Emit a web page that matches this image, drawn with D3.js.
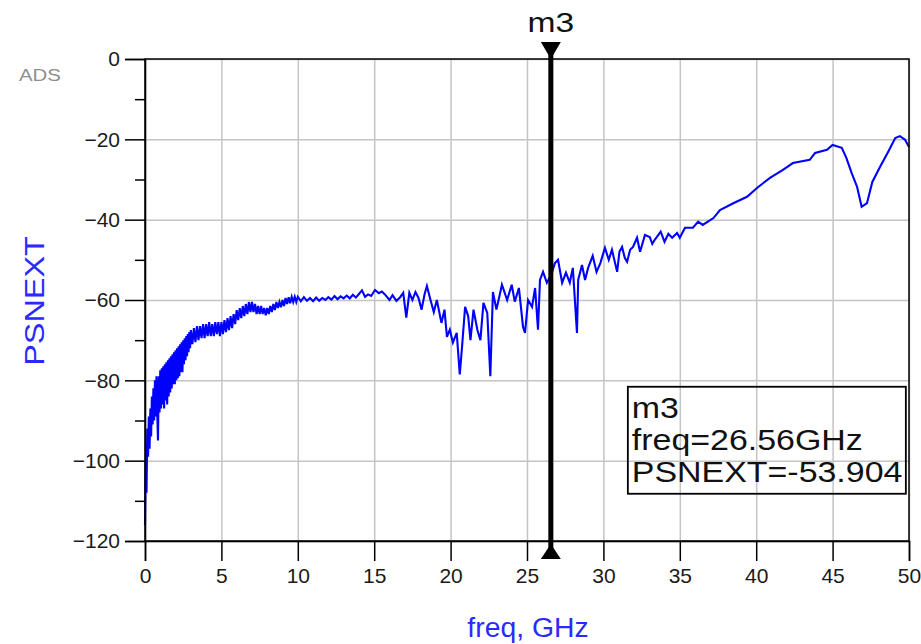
<!DOCTYPE html>
<html>
<head>
<meta charset="utf-8">
<script src="https://cdn.jsdelivr.net/npm/d3@7"></script>
<style>
  body { margin: 0; background: #fff; }
  #canvas { width: 921px; height: 644px; }
  text { font-family: "Liberation Sans", Arial, sans-serif; }
</style>
</head>
<body>
<div id="canvas" class="canvas"></div>
<script>
// chart data
var xTicks = [0, 5, 10, 15, 20, 25, 30, 35, 40, 45, 50];
var yTicks = [0, -20, -40, -60, -80, -100, -120];
var yMinor = [-10, -30, -50, -70, -90, -110];

var freqGHz = [
  0.00, 0.05, 0.10, 0.15, 0.20, 0.25, 0.30, 0.35, 0.40, 0.45, 0.50, 0.55, 0.60, 0.65, 0.70, 0.75,
  0.80, 0.85, 0.90, 0.95, 1.00, 1.05, 1.10, 1.15, 1.20, 1.25, 1.30, 1.35, 1.40, 1.45, 1.50, 1.55,
  1.60, 1.65, 1.70, 1.75, 1.80, 1.85, 1.90, 1.95, 2.00, 2.05, 2.10, 2.15, 2.20, 2.25, 2.30, 2.35,
  2.40, 2.45, 2.50, 2.55, 2.60, 2.65, 2.70, 2.75, 2.80, 2.85, 2.90, 2.95, 3.00,
  3.1, 3.2, 3.3, 3.4, 3.5, 3.6, 3.7, 3.8, 3.9, 4.0, 4.1, 4.2, 4.3, 4.4, 4.5, 4.6, 4.7, 4.8, 4.9, 5.0,
  5.1, 5.2, 5.3, 5.4, 5.5, 5.6, 5.7, 5.8, 5.9, 6.0, 6.1, 6.2, 6.3, 6.4, 6.5, 6.6, 6.7, 6.8, 6.9, 7.0,
  7.1, 7.2, 7.3, 7.4, 7.5, 7.6, 7.7, 7.8, 7.9, 8.0, 8.1, 8.2, 8.3, 8.4, 8.5, 8.6, 8.7, 8.8, 8.9, 9.0,
  9.1, 9.2, 9.3, 9.4, 9.5, 9.6, 9.7, 9.8, 9.9, 10.0,
  10.2, 10.4, 10.6, 10.8, 11.0, 11.2, 11.4, 11.6, 11.8, 12.0, 12.2, 12.4, 12.6, 12.8, 13.0, 13.2,
  13.4, 13.6, 13.8, 14.0, 14.2, 14.4, 14.6, 14.8, 15.05, 15.3, 15.5, 15.7,
  16.0, 16.2, 16.45, 16.7, 16.9, 17.1, 17.3, 17.5, 17.7, 17.9, 18.1, 18.3, 18.45, 18.65,
  18.9, 19.1, 19.4, 19.6, 19.76, 19.95, 20.15, 20.4, 20.6, 20.75, 20.95, 21.15, 21.3, 21.5,
  21.75, 21.95, 22.15, 22.4, 22.6, 22.77, 23.0, 23.36, 23.7, 24.0, 24.2, 24.47, 24.74, 24.87,
  25.07, 25.33, 25.53, 25.72, 25.85, 26.05, 26.3, 26.56, 26.83, 27.03, 27.3, 27.55, 27.8, 28.0,
  28.27, 28.35, 28.6, 28.8, 29.0, 29.3, 29.55, 29.8, 30.1, 30.35, 30.56, 30.9, 31.05, 31.22,
  31.4, 31.55, 31.75, 31.94, 32.2, 32.4, 32.72, 33.03, 33.2, 33.36, 33.75, 34.0, 34.25, 34.5,
  34.82, 35.0, 35.34, 35.86, 36.2, 36.5, 37.2, 37.63, 38.5, 39.4, 40.05, 40.9, 41.75, 42.4,
  43.5, 43.85, 44.63, 45.0, 45.6, 45.9, 46.25, 46.6, 46.9, 47.25, 47.6, 48.1, 48.64, 49.1,
  49.4, 49.74, 50.0
];

var psnext = [
  -116, -100, -108, -92, -99, -89, -97, -87, -94, -84, -91, -82, -90, -80, -89, -79,
  -88, -95, -79, -88, -77.5, -87, -77, -86, -76.5, -87, -76, -85, -75.5, -86, -75, -84,
  -74.5, -83, -74, -82, -73.5, -81, -73, -81, -72.5, -80, -72, -79.5, -71.5, -79, -71, -78,
  -70.5, -78, -70, -76, -69.5, -75, -69, -74, -68.5, -73, -68, -72, -67.5,
  -71, -67, -70.5, -66.5, -70, -66.5, -69.5, -66, -69.5, -66, -69, -65.5, -69, -66, -69, -65.5, -68.5, -65.5, -69, -65.5,
  -68.5, -65, -68, -64.5, -67.5, -64, -67, -63.5, -66, -62.5, -65, -62, -64.5, -61.5, -64, -61, -63.5, -60.5, -63, -60.5,
  -63, -61, -63.5, -61.5, -63.5, -61.5, -63.5, -62, -63.8, -62, -63.5, -61.5, -63, -61, -62.5, -60.5, -62, -60.5, -61.8, -60,
  -61.5, -59.5, -61, -59.3, -60.8, -59.2, -60.5, -59.2, -60.5, -59.2,
  -60.3, -59.3, -60.2, -59.5, -60.3, -59.4, -60.2, -59.5, -60, -59.3, -59.9, -59, -59.8, -59.1, -59.6, -58.9,
  -59.6, -58.7, -59.4, -58.5, -57.6, -59.2, -58.6, -59, -57.5, -58.3, -57.9, -58.6,
  -60, -58.8, -60.2, -59.3, -58.2, -64.4, -58.2, -60, -58, -59.5, -62.4, -58.5, -56.5, -59.5,
  -63, -60, -65.7, -62.4, -69.2, -67.4, -70.6, -68.2, -78.5, -71.6, -61.7, -64, -70, -62.4,
  -67.4, -70, -60.7, -63.2, -79, -58, -62.4, -56.2, -60, -56.2, -60.4, -57, -66.7, -68.2,
  -60, -61.7, -57, -67.4, -55, -53, -55.7, -53.9, -50.8, -50, -55.7, -53.2, -55.7, -52,
  -68.2, -55, -51.3, -55, -52, -49, -53, -50.8, -47, -50, -47.5, -53, -48, -46.8,
  -49.5, -50.5, -47.5, -46.8, -44.5, -48, -43.8, -44.3, -46, -45, -43, -45.5, -43.5, -44.5,
  -43.3, -44.5, -42, -42, -40.5, -41.3, -39.6, -37.6, -35.9, -34.3, -32.1, -29.6, -27.6, -25.9,
  -25.1, -23.4, -22.6, -21.4, -22.1, -24.6, -28.4, -31.8, -36.8, -35.9, -30.6, -26.9, -23.1, -19.7,
  -19.2, -20.1, -21.9
];

// marker m3
var markerName = 'm3';
var markerFreq = 26.56;
var markerVal = -53.904;

var W = 921, H = 644;
var m = {t: 59, r: 12, b: 103, l: 145},
    w = W - m.l - m.r,
    h = H - m.t - m.b;

var svg = d3.select('.canvas')
    .append('svg')
    .attr('width', W)
    .attr('height', H);

var plot = svg.append('g').attr('class', 'plot')
    .attr('transform', 'translate(' + m.l + ',' + m.t + ')');

var x = d3.scaleLinear().domain([0, 50]).range([0, w]);
var y = d3.scaleLinear().domain([-120, 0]).range([h, 0]);

// grid
plot.append('g').attr('class', 'grid')
    .attr('transform', 'translate(0,' + h + ')')
    .call(d3.axisBottom(x).tickValues(xTicks).tickSize(-h).tickFormat(''))
    .call(function(g){ g.select('.domain').remove(); });
plot.append('g').attr('class', 'grid')
    .call(d3.axisLeft(y).tickValues(yTicks).tickSize(-w).tickFormat(''))
    .call(function(g){ g.select('.domain').remove(); });
plot.selectAll('.grid line').attr('stroke', '#c4c4c4').attr('stroke-width', 1.5);

// trace
var line = d3.line()
    .x(function(d){ return x(d[0]); })
    .y(function(d){ return y(d[1]); });

plot.append('path')
    .datum(freqGHz.map(function(f, i){ return [f, psnext[i]]; }))
    .attr('d', line)
    .attr('fill', 'none')
    .attr('stroke', '#0000ff')
    .attr('stroke-width', 2.1);

// frame
plot.append('rect')
    .attr('width', w).attr('height', h)
    .attr('fill', 'none').attr('stroke', '#000').attr('stroke-width', 1.5);

// axes
var xAxis = plot.append('g')
    .attr('transform', 'translate(0,' + h + ')')
    .call(d3.axisBottom(x).tickValues(xTicks).tickSize(20).tickPadding(7));
var yAxis = plot.append('g')
    .call(d3.axisLeft(y).tickValues(yTicks).tickSize(20).tickPadding(5));
plot.append('g')
    .call(d3.axisLeft(y).tickValues(yMinor).tickSize(10).tickFormat(''))
    .call(function(g){ g.select('.domain').remove(); });

plot.selectAll('.domain').attr('stroke', '#000').attr('stroke-width', 1.5);
plot.selectAll('.tick line').filter(function(){ return this.parentNode.parentNode.getAttribute('class') !== 'grid'; })
    .attr('stroke', '#000').attr('stroke-width', 1.5);
xAxis.selectAll('text').attr('font-size', 21).attr('fill', '#1a1a1a')
    .style('font-family', '"Liberation Sans", Arial, sans-serif');
yAxis.selectAll('text').attr('font-size', 21).attr('fill', '#1a1a1a')
    .style('font-family', '"Liberation Sans", Arial, sans-serif');

// marker
var mx = x(markerFreq);
plot.append('line')
    .attr('x1', mx).attr('x2', mx)
    .attr('y1', -14).attr('y2', h + 14)
    .attr('stroke', '#000').attr('stroke-width', 5);
plot.append('path')
    .attr('d', 'M' + (mx - 10) + ',-17L' + (mx + 10) + ',-17L' + mx + ',0Z')
    .attr('fill', '#000');
plot.append('path')
    .attr('d', 'M' + (mx - 10) + ',' + (h + 18) + 'L' + (mx + 10) + ',' + (h + 18) + 'L' + mx + ',' + (h + 3) + 'Z')
    .attr('fill', '#000');
plot.append('text')
    .attr('transform', 'translate(' + mx + ',-27) scale(1.2,1)')
    .attr('text-anchor', 'middle')
    .attr('font-size', 28)
    .attr('fill', '#111')
    .text(markerName);

// marker readout box
var box = plot.append('g').attr('transform', 'translate(' + (x(31.6)) + ',' + (y(-81.6)) + ')');
box.append('rect')
    .attr('width', 278).attr('height', 107)
    .attr('fill', 'none').attr('stroke', '#000').attr('stroke-width', 1.8);
var lines = [markerName, 'freq=' + markerFreq + 'GHz', 'PSNEXT=' + markerVal];
box.selectAll('text.rd')
    .data(lines)
    .enter().append('text')
    .attr('class', 'rd')
    .attr('transform', function(d, i){ return 'translate(4,' + (31 + i * 32) + ') scale(1.17,1)'; })
    .attr('font-size', 29)
    .attr('fill', '#111')
    .text(function(d){ return d; });

// axis titles
svg.append('text')
    .attr('transform', 'translate(44,' + (m.t + h / 2 + 1) + ') rotate(-90) scale(1.2,1)')
    .attr('text-anchor', 'middle')
    .attr('font-size', 27)
    .attr('fill', '#2a2aff')
    .text('PSNEXT');
svg.append('text')
    .attr('transform', 'translate(' + (m.l + w / 2 + 1) + ',637) scale(1.05,1)')
    .attr('text-anchor', 'middle')
    .attr('font-size', 27)
    .attr('fill', '#2a2aff')
    .text('freq, GHz');

svg.append('text')
    .attr('transform', 'translate(19,81) scale(1.2,1)')
    .attr('font-size', 17)
    .attr('fill', '#8f8f8f')
    .text('ADS');
</script>
</body>
</html>
